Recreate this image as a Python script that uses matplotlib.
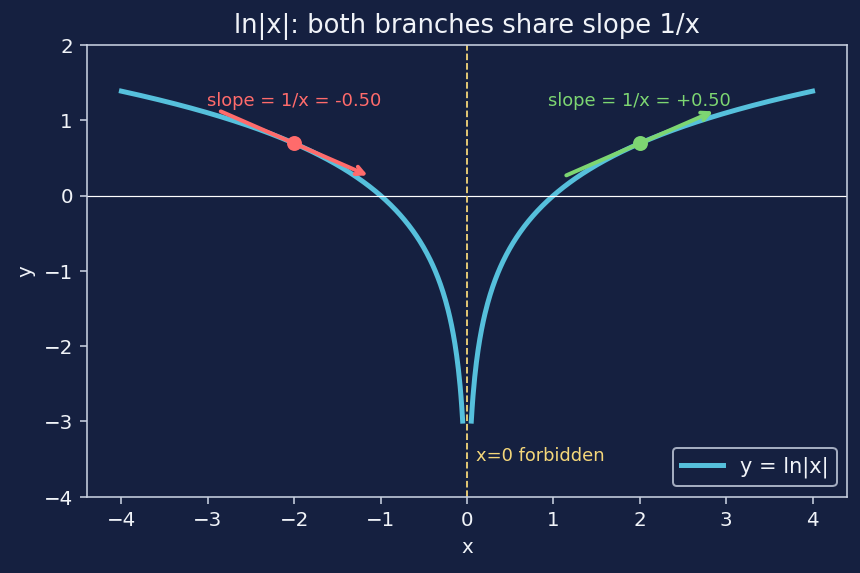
import numpy as np
import matplotlib
matplotlib.use("Agg")
import matplotlib.pyplot as plt

BG = "#152040"
FG = "#f0f3f8"
SPINE = "#c8d0e0"
CURVE = "#56c0dc"
RED = "#ff6b6b"
GREEN = "#7dd672"
YELLOW = "#f5d77a"

# data
x_left = np.linspace(-4, -0.05, 400)
x_right = np.linspace(0.05, 4, 400)
tangent_x = [-2.0, 2.0]
tangent_colors = [RED, GREEN]
half_len = 0.85

DPI = 860 / 6
fig, ax = plt.subplots(figsize=(6, 4), dpi=DPI)
fig.patch.set_facecolor(BG)
ax.set_facecolor(BG)

ax.plot(x_left, np.log(np.abs(x_left)), color=CURVE, lw=2.5, label="y = ln|x|")
ax.plot(x_right, np.log(np.abs(x_right)), color=CURVE, lw=2.5)

ax.axhline(0, color="white", lw=0.6)
ax.axvline(0, color=YELLOW, lw=0.9, ls="--")

for x0, c in zip(tangent_x, tangent_colors):
    y0 = np.log(abs(x0))
    m = 1 / x0
    xs, xe = x0 - half_len, x0 + half_len
    start, end = (xs, y0 + m * (xs - x0)), (xe, y0 + m * (xe - x0))
    ax.annotate("", xy=end, xytext=start,
                arrowprops=dict(arrowstyle="->", color=c, lw=2,
                                shrinkA=0, shrinkB=0))
    ax.plot([x0], [y0], "o", color=c, ms=6.5, zorder=5)
    label = f"slope = 1/x = {m:+.2f}" if m > 0 else f"slope = 1/x = {m:.2f}"
    ax.text(x0, y0 + 0.45, label, color=c, fontsize=9, ha="center", va="bottom")

ax.text(0.1, -3.45, "x=0 forbidden", color=YELLOW, fontsize=9, va="center")

ax.set_xlim(-4.4, 4.4)
ax.set_ylim(-4, 2)
ax.set_xlabel("x", color=FG, fontsize=10)
ax.set_ylabel("y", color=FG, fontsize=10)
ax.set_title("ln|x|: both branches share slope 1/x", color=FG, fontsize=13)
ax.tick_params(colors=SPINE, labelcolor=FG, labelsize=10)
for s in ax.spines.values():
    s.set_color(SPINE)

ax.legend(loc="lower right", fontsize=10.5, facecolor=BG, edgecolor=SPINE, labelcolor=FG)

fig.subplots_adjust(left=0.101, right=0.985, top=0.921, bottom=0.133)
fig.savefig("out.png", dpi=DPI, facecolor=BG)
